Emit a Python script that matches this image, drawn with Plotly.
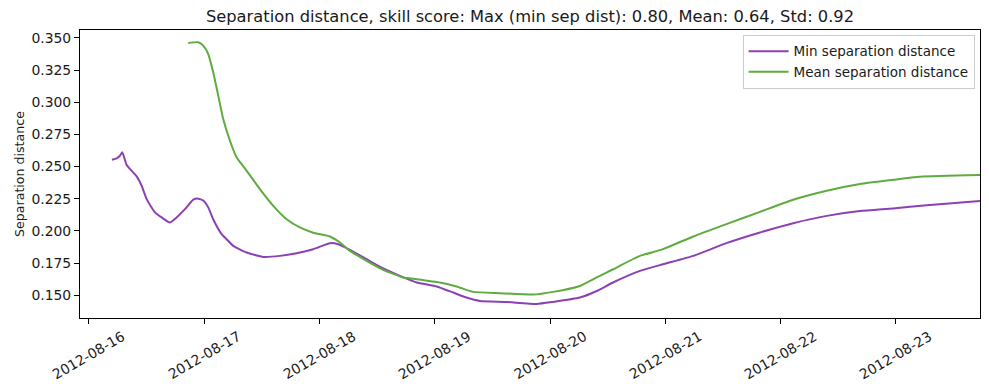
import plotly.graph_objects as go

# ---- data ----
min_times = [
    "2012-08-16 04:47", "2012-08-16 05:46", "2012-08-16 06:27", "2012-08-16 06:56",
    "2012-08-16 07:51", "2012-08-16 08:53", "2012-08-16 09:56", "2012-08-16 10:58",
    "2012-08-16 12:01", "2012-08-16 13:44", "2012-08-16 15:08", "2012-08-16 16:52",
    "2012-08-16 18:15", "2012-08-16 19:59", "2012-08-16 21:43", "2012-08-16 22:45",
    "2012-08-16 23:47", "2012-08-17 00:50", "2012-08-17 01:52", "2012-08-17 03:37",
    "2012-08-17 05:00", "2012-08-17 06:02", "2012-08-17 08:50", "2012-08-17 12:17",
    "2012-08-17 15:46", "2012-08-17 19:14", "2012-08-17 22:41", "2012-08-18 02:10",
    "2012-08-18 03:53", "2012-08-18 06:20", "2012-08-18 09:48", "2012-08-18 13:16",
    "2012-08-18 16:44", "2012-08-18 20:13", "2012-08-19 00:22", "2012-08-19 03:50",
    "2012-08-19 06:37", "2012-08-19 09:23", "2012-08-19 14:56", "2012-08-19 21:11",
    "2012-08-20 00:38", "2012-08-20 06:12", "2012-08-20 09:42", "2012-08-20 13:06",
    "2012-08-20 18:42", "2012-08-20 23:30", "2012-08-21 05:48", "2012-08-21 12:42",
    "2012-08-21 19:42", "2012-08-22 02:36", "2012-08-22 09:36", "2012-08-22 16:30",
    "2012-08-22 23:24", "2012-08-23 06:24", "2012-08-23 17:30",
]
min_sep = [
    0.2553, 0.2564, 0.2584, 0.2611,
    0.2512, 0.2467, 0.2424, 0.2351,
    0.2247, 0.2144, 0.2105, 0.2066,
    0.2105, 0.2169, 0.2243, 0.2251,
    0.2236, 0.2183, 0.2091, 0.1975,
    0.1923, 0.1884, 0.1832, 0.1798,
    0.1806, 0.1827, 0.1858, 0.1905,
    0.1897, 0.1853, 0.1780, 0.1708,
    0.1650, 0.1599, 0.1568, 0.1521,
    0.1482, 0.1456, 0.1448, 0.1432,
    0.1448, 0.1482, 0.1533, 0.1599,
    0.1689, 0.1741, 0.1806, 0.1905,
    0.1988, 0.2060, 0.2117, 0.2154,
    0.2175, 0.2200, 0.2232,
]

mean_times = [
    "2012-08-16 20:40", "2012-08-16 22:45", "2012-08-16 23:47", "2012-08-17 00:50",
    "2012-08-17 01:52", "2012-08-17 02:55", "2012-08-17 03:57", "2012-08-17 05:21",
    "2012-08-17 06:44", "2012-08-17 08:50", "2012-08-17 11:35", "2012-08-17 14:22",
    "2012-08-17 17:09", "2012-08-17 19:55", "2012-08-17 22:41", "2012-08-18 02:10",
    "2012-08-18 04:15", "2012-08-18 06:20", "2012-08-18 09:48", "2012-08-18 13:16",
    "2012-08-18 17:25", "2012-08-18 20:13", "2012-08-19 01:04", "2012-08-19 04:32",
    "2012-08-19 07:59", "2012-08-19 13:33", "2012-08-19 20:29", "2012-08-20 00:38",
    "2012-08-20 06:12", "2012-08-20 09:42", "2012-08-20 13:06", "2012-08-20 18:42",
    "2012-08-20 23:30", "2012-08-21 05:48", "2012-08-21 12:42", "2012-08-21 19:42",
    "2012-08-22 02:36", "2012-08-22 09:36", "2012-08-22 16:30", "2012-08-22 23:24",
    "2012-08-23 05:00", "2012-08-23 17:30",
]
mean_sep = [
    0.3461, 0.3467, 0.3440, 0.3375,
    0.3233, 0.3051, 0.2870, 0.2701,
    0.2572, 0.2467, 0.2325, 0.2195,
    0.2091, 0.2027, 0.1986, 0.1957,
    0.1910, 0.1845, 0.1767, 0.1697,
    0.1638, 0.1625, 0.1599, 0.1568,
    0.1526, 0.1516, 0.1505, 0.1526,
    0.1572, 0.1638, 0.1702, 0.1806,
    0.1858, 0.1957, 0.2053, 0.2148,
    0.2242, 0.2312, 0.2364, 0.2397,
    0.2421, 0.2434,
]

x_tick_dates = ["2012-08-16", "2012-08-17", "2012-08-18", "2012-08-19",
                "2012-08-20", "2012-08-21", "2012-08-22", "2012-08-23"]
y_tick_vals = [0.150, 0.175, 0.200, 0.225, 0.250, 0.275, 0.300, 0.325, 0.350]

title_text = "Separation distance, skill score: Max (min sep dist): 0.80, Mean: 0.64, Std: 0.92"

FONT = "DejaVu Sans"
PURPLE = "#8b41b3"
GREEN = "#5eab3f"
TXT = "#1a1a1a"

# the page body has an 8px margin; the figure is sized to compensate
W, H = 981, 382

fig = go.Figure()
fig.add_trace(go.Scatter(x=min_times, y=min_sep, mode="lines",
                         name="Min separation distance",
                         line=dict(color=PURPLE, width=2, shape="spline", smoothing=0.5)))
fig.add_trace(go.Scatter(x=mean_times, y=mean_sep, mode="lines",
                         name="Mean separation distance",
                         line=dict(color=GREEN, width=2, shape="spline", smoothing=0.5)))

annotations = []
for d in x_tick_dates:
    annotations.append(dict(x=d, y=0, xref="x", yref="paper", text=d,
                            showarrow=False, textangle=-30,
                            xanchor="center", yanchor="middle", yshift=-37,
                            font=dict(family=FONT, size=13.9, color=TXT)))

fig.update_layout(
    width=W, height=H,
    margin=dict(l=72, r=9, t=22, b=72, autoexpand=False),
    paper_bgcolor="white", plot_bgcolor="white",
    font=dict(family=FONT, size=13.9, color=TXT),
    title=dict(text=title_text, x=(72 + 972) / 2 / W, xanchor="center",
               y=1 - 8 / H, yanchor="middle",
               font=dict(family=FONT, size=16.3, color=TXT)),
    showlegend=True,
    legend=dict(x=0.994, y=0.983, xanchor="right", yanchor="top",
                bgcolor="rgba(255,255,255,0.8)", bordercolor="#cccccc",
                borderwidth=1, font=dict(family=FONT, size=13.5, color=TXT),
                tracegroupgap=0, itemwidth=40),
    annotations=annotations,
)

fig.update_xaxes(
    type="date",
    range=["2012-08-15 22:08", "2012-08-23 17:30"],
    tickvals=x_tick_dates, showticklabels=False,
    ticks="outside", ticklen=5, tickcolor="black",
    showline=True, linecolor="black", linewidth=1, mirror=True,
    showgrid=False, zeroline=False,
)
fig.update_yaxes(
    range=[0.1323, 0.3562],
    tickvals=y_tick_vals, tickformat=".3f",
    ticks="outside", ticklen=5, tickcolor="black",
    showline=True, linecolor="black", linewidth=1, mirror=True,
    showgrid=False, zeroline=False, automargin=False,
    title=dict(text="Separation distance", standoff=4,
               font=dict(family=FONT, size=12.6, color=TXT)),
    tickfont=dict(family=FONT, size=13.9, color=TXT),
)

fig.write_html("out.html")
